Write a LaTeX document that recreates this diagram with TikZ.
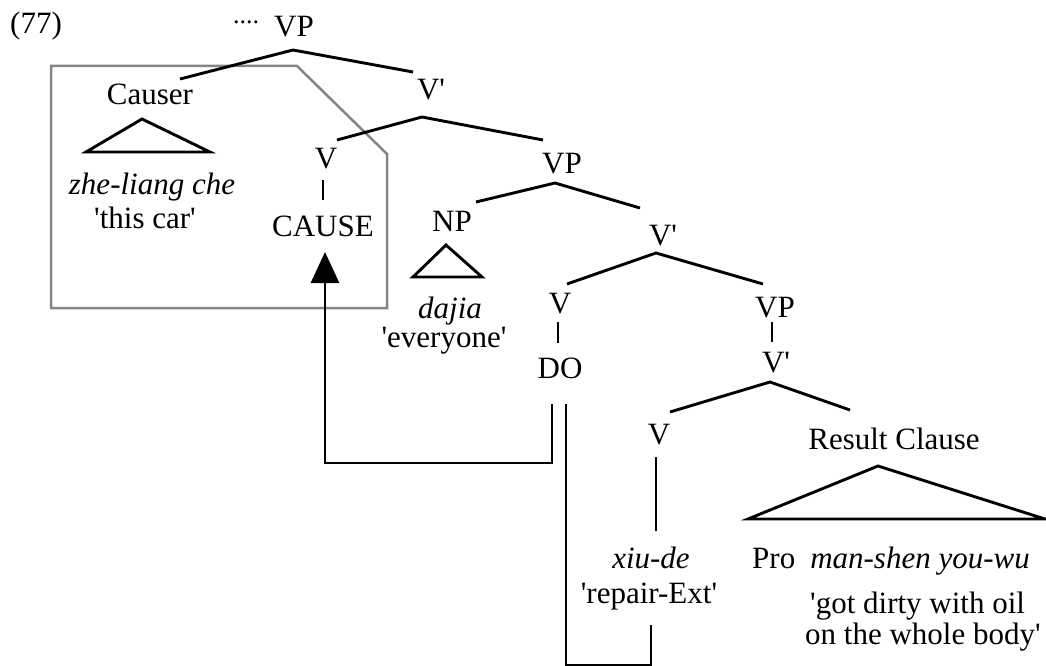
\documentclass[tikz,border=0pt]{standalone}
\usepackage{fontspec}
\setmainfont{Liberation Serif}[Ligatures=TeXOff]
\usetikzlibrary{arrows.meta}
\begin{document}
\begin{tikzpicture}[x=1pt,y=-1pt,
  t/.style={inner sep=0pt, anchor=base, font=\fontsize{31}{37}\selectfont},
  tw/.style={t, anchor=base west},
  br/.style={line width=2.9pt, black},
  tri/.style={line width=2.9pt, black, line join=miter}]
\useasboundingbox (0,0) rectangle (1046,666);
% labels
\node[tw] (ex) at (10,34) {(77)};
\node[tw, font=\fontsize{26}{30}\selectfont] (dots) at (233,24) {....};
\node[t] (vp0) at (294,37) {VP};
\node[t] (causer) at (150,105) {Causer};
\node[t] (zhe) at (152,194) {\itshape zhe-liang che};
\node[t] (thiscar) at (145,228) {'this car'};
\node[t] (vbar1) at (431,100) {V'};
\node[t] (v1) at (326,168) {V};
\node[t] (cause) at (323,236) {CAUSE};
\node[t] (vp1) at (562,173) {VP};
\node[t] (np) at (452,231) {NP};
\node[t] (dajia) at (450,318) {\itshape dajia};
\node[t] (everyone) at (444,347) {'everyone'};
\node[t] (vbar2) at (663,245) {V'};
\node[t] (v2) at (560,313) {V};
\node[t] (do) at (560,378) {DO};
\node[t] (vp2) at (775,317) {VP};
\node[t] (vbar3) at (776,372) {V'};
\node[t] (v3) at (659,444) {V};
\node[t] (result) at (894,449) {Result Clause};
\node[t] (xiude) at (651,568) {\itshape xiu-de};
\node[t] (repair) at (649,603) {'repair-Ext'};
\node[tw] (pro) at (752,568) {Pro\hspace{15pt}\itshape man-shen you-wu};
\node[tw] (got) at (810,613) {'got dirty with oil};
\node[tw] (whole) at (805,644) {on the whole body'};
% gray box
\draw[line width=2.5pt, color=black!48, line join=miter]
  (51,66) -- (297,66) -- (387,154) -- (387,308) -- (51,308) -- cycle;
% branches
\draw[br] ([shift={(30,-26)}]causer.base) -- ([shift={(-1,13)}]vp0.base) -- ([shift={(-18,-28)}]vbar1.base);
\draw[br] ([shift={(11,-28)}]v1.base) -- ([shift={(-9,17)}]vbar1.base) -- ([shift={(-19,-33)}]vp1.base);
\draw[br] ([shift={(-3,12)}]v1.base) -- ([shift={(0,-36)}]cause.base);
\draw[br] ([shift={(24,-29)}]np.base) -- ([shift={(-7,10)}]vp1.base) -- ([shift={(-23,-37)}]vbar2.base);
\draw[br] ([shift={(7,-29)}]v2.base) -- ([shift={(-7,8)}]vbar2.base) -- ([shift={(-12,-33)}]vp2.base);
\draw[br] ([shift={(-2,9)}]v2.base) -- ([shift={(-2,-35)}]do.base);
\draw[br] ([shift={(-3,5)}]vp2.base) -- ([shift={(-4,-30)}]vbar3.base);
\draw[br] ([shift={(11,-32)}]v3.base) -- ([shift={(-6,10)}]vbar3.base) -- ([shift={(-44,-39)}]result.base);
\draw[br] ([shift={(-3,13)}]v3.base) -- ([shift={(5,-37)}]xiude.base);
% triangles
\draw[tri] ([shift={(-8,14)}]causer.base) -- ([shift={(-64,47)}]causer.base) -- ([shift={(60,47)}]causer.base) -- cycle;
\draw[tri] ([shift={(-6,14)}]np.base) -- ([shift={(-39,46)}]np.base) -- ([shift={(30,46)}]np.base) -- cycle;
\draw[tri] ([shift={(-16,17)}]result.base) -- ([shift={(-146,70)}]result.base) -- ([shift={(151,70)}]result.base) -- cycle;
% arrow DO -> CAUSE
\draw[br, -{Triangle[length=31pt,width=28pt]}] ([shift={(-8,26)}]do.base) -- ++(0,59) -| ([shift={(2,16)}]cause.base);
% bracket DO -> xiu-de
\draw[br] ([shift={(6,26)}]do.base) -- ++(0,261) -| ([shift={(2,22)}]repair.base);
\end{tikzpicture}
\end{document}
